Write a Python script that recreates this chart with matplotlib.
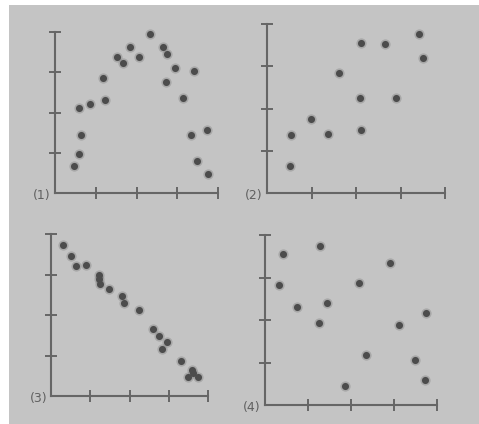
import matplotlib.pyplot as plt
from matplotlib.patches import Rectangle

# panel (1): rise then fall
x1 = [0.47, 0.60, 0.65, 0.59, 0.87, 1.23, 1.19, 1.52, 1.67, 1.84, 2.07, 2.32,
      2.65, 2.76, 2.95, 2.72, 3.41, 3.13, 3.34, 3.72, 3.49, 3.75]
y1 = [0.66, 0.98, 1.44, 2.10, 2.22, 2.31, 2.85, 3.38, 3.23, 3.62, 3.39, 3.95,
      3.63, 3.45, 3.11, 2.77, 3.02, 2.37, 1.43, 1.57, 0.80, 0.48]

# panel (2): loose positive
x2 = [0.51, 0.55, 0.99, 1.38, 1.61, 2.12, 2.09, 2.12, 2.65, 2.91, 3.41, 3.51]
y2 = [0.63, 1.38, 1.76, 1.40, 2.83, 3.54, 2.24, 1.50, 3.52, 2.26, 3.77, 3.20]

# panel (3): strong negative
x3 = [0.31, 0.50, 0.63, 0.88, 1.22, 1.23, 1.24, 1.47, 1.80, 1.86, 2.25, 2.60,
      2.74, 2.95, 2.84, 3.30, 3.50, 3.62, 3.74, 3.58]
y3 = [3.72, 3.45, 3.21, 3.23, 3.00, 2.88, 2.77, 2.63, 2.46, 2.30, 2.12, 1.65,
      1.47, 1.34, 1.15, 0.86, 0.46, 0.58, 0.46, 0.64]

# panel (4): no relation
x4 = [0.41, 1.29, 0.33, 0.75, 1.45, 1.26, 2.18, 2.91, 3.74, 3.12, 2.36, 3.48,
      3.72, 1.86]
y4 = [3.56, 3.75, 2.83, 2.31, 2.40, 1.94, 2.87, 3.33, 2.17, 1.89, 1.18, 1.06,
      0.60, 0.45]

labels = ['(1)', '(2)', '(3)', '(4)']

W, H = 479, 424
fig = plt.figure(figsize=(W / 100, H / 100), dpi=100)
fig.patch.set_facecolor('white')
fig.patches.append(Rectangle((9 / W, 0), 1, 1 - 5 / H, transform=fig.transFigure,
                             facecolor='#c4c4c4', edgecolor='none', zorder=-10))

# pixel boxes: left, right, top, bottom
boxes = [(55, 218, 32, 193), (267, 445, 24, 193),
         (51, 208, 234, 396), (265, 437, 235, 405)]
data = [(x1, y1), (x2, y2), (x3, y3), (x4, y4)]
axc = '#666666'

for (l, r, t, b), (xs, ys), lab in zip(boxes, data, labels):
    ax = fig.add_axes([l / W, 1 - b / H, (r - l) / W, (b - t) / H])
    ax.set_facecolor('none')
    ax.set_xlim(0, 4)
    ax.set_ylim(0, 4)
    for s in ['top', 'right']:
        ax.spines[s].set_visible(False)
    for s in ['left', 'bottom']:
        ax.spines[s].set_color(axc)
        ax.spines[s].set_linewidth(1.5)
    ax.set_xticks([1, 2, 3, 4])
    ax.set_yticks([1, 2, 3, 4])
    ax.tick_params(direction='inout', length=8, width=1.4, color=axc,
                   labelbottom=False, labelleft=False)
    ax.scatter(xs, ys, s=55, color='#888888', alpha=0.45, linewidths=0, clip_on=False)
    ax.scatter(xs, ys, s=26, color='#4c4c4c', linewidths=0, clip_on=False)
    ax.text(-0.1, -0.05, lab, transform=ax.transData, ha='right', va='center',
            fontsize=9, color='#606060', family=['Liberation Sans Narrow', 'DejaVu Sans'])

fig.savefig('out.png', dpi=100, facecolor=fig.get_facecolor())
